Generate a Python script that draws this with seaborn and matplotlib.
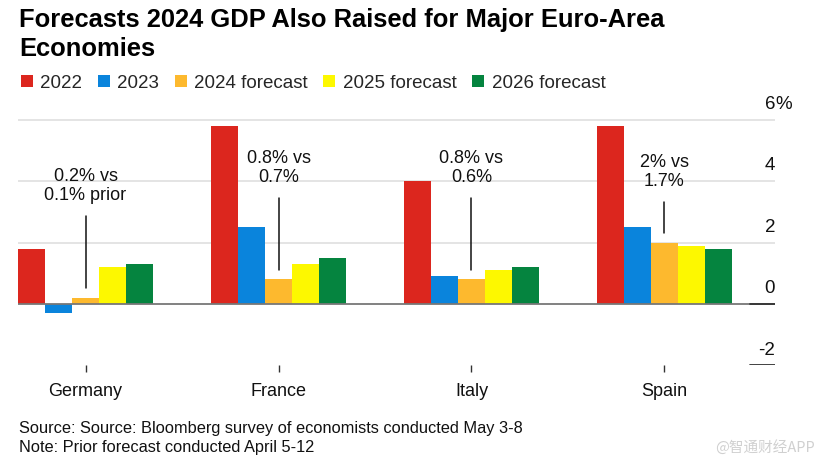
import matplotlib
matplotlib.use("Agg")
import seaborn as sns
import pandas as pd
import numpy as np
import matplotlib.pyplot as plt
from matplotlib.patches import Patch
import matplotlib.transforms as mtransforms

countries = ["Germany", "France", "Italy", "Spain"]
series = ["2022", "2023", "2024 forecast", "2025 forecast", "2026 forecast"]
gdp_2022 = [1.8, 5.8, 4.0, 5.8]
gdp_2023 = [-0.3, 2.5, 0.9, 2.5]
gdp_2024 = [0.2, 0.8, 0.8, 2.0]
gdp_2025 = [1.2, 1.3, 1.1, 1.9]
gdp_2026 = [1.3, 1.5, 1.2, 1.8]
notes = ["0.2% vs\n0.1% prior", "0.8% vs\n0.7%", "0.8% vs\n0.6%", "2% vs\n1.7%"]
yticks = [-2, 0, 2, 4, 6]

colors = ["#dc261e", "#0a84dc", "#fdb92e", "#fdf800", "#05843f"]

df = pd.DataFrame({
    "country": countries * 5,
    "series": np.repeat(series, 4),
    "value": gdp_2022 + gdp_2023 + gdp_2024 + gdp_2025 + gdp_2026,
})

sns.set_theme(style="white")
plt.rcParams["font.family"] = ["Liberation Sans", "DejaVu Sans"]

fig = plt.figure(figsize=(8.25, 4.66), dpi=100)
ax = fig.add_axes([18 / 825, 0.2159, (775 - 18) / 825, 0.7824 - 0.2159])

sns.barplot(data=df, x="country", y="value", hue="series", palette=colors,
            width=0.7, saturation=1, dodge=True, legend=False, ax=ax,
            errorbar=None, linewidth=0)

ax.set_xlim(-0.35, 3.573)
ax.set_ylim(-2, 6.6)
for s in ax.spines.values():
    s.set_visible(False)

# gridlines + zero baseline
for v in yticks:
    if v > 0:
        ax.axhline(v, color="#dcdcdc", lw=1.1, zorder=0)
ax.axhline(0, color="#777777", lw=1.3, zorder=3)
for v in [0, -2]:
    ax.axhline(v, xmin=1 - 25 / 757, xmax=1, color="#333333", lw=1.3, zorder=4)

# right-side tick labels above the lines
tr = mtransforms.blended_transform_factory(ax.transAxes, ax.transData)
for v in yticks:
    ax.text(1.0, v + 0.22, str(v), transform=tr, ha="right", va="bottom",
            fontsize=13.5, color="#111111")
ax.text(1.0, yticks[-1] + 0.22, "%", transform=tr, ha="left", va="bottom",
        fontsize=13.5, color="#111111")
ax.set_yticks([])

ax.set_xlabel("")
ax.set_ylabel("")
ax.tick_params(axis="x", bottom=True, length=5, width=1, color="#333333",
               pad=8, labelsize=13, labelcolor="#111111")

# callouts
note_text_y = [3.84, 4.43, 4.43, 4.3]
note_line = [(2.87, 0.52), (3.46, 1.1), (3.46, 1.1), (3.33, 2.32)]
for i, (txt, ty, (y1, y2)) in enumerate(zip(notes, note_text_y, note_line)):
    ax.text(i, ty, txt, ha="center", va="center", fontsize=13,
            linespacing=1.1, color="#111111")
    ax.plot([i, i], [y1, y2], color="#111111", lw=1.1)

# title
fig.text(19 / 825, 1 - 8 / 466, "Forecasts 2024 GDP Also Raised for Major Euro-Area\nEconomies",
         ha="left", va="top", fontsize=18.4, fontweight="bold", linespacing=1.25,
         color="#000000")

# legend
handles = [Patch(facecolor=c, edgecolor="none") for c in colors]
fig.legend(handles, series, loc="upper left", bbox_to_anchor=(13 / 825, 1 - 67 / 466),
           ncol=5, frameon=False, fontsize=13.5, handlelength=0.65, handleheight=0.65,
           handletextpad=0.4, columnspacing=0.82, borderaxespad=0)

# footnotes
fig.text(19 / 825, 1 - 433 / 466, "Source: Source: Bloomberg survey of economists conducted May 3-8",
         ha="left", va="baseline", fontsize=11.8, color="#111111")
fig.text(19 / 825, 1 - 452 / 466, "Note: Prior forecast conducted April 5-12",
         ha="left", va="baseline", fontsize=11.8, color="#111111")
fig.text(815 / 825, 1 - 452 / 466, "@智通财经APP", ha="right", va="baseline",
         fontsize=10.5, color="#d0d0d0",
         family=["Noto Sans CJK SC", "DejaVu Sans"])

fig.savefig("out.png", dpi=100)
